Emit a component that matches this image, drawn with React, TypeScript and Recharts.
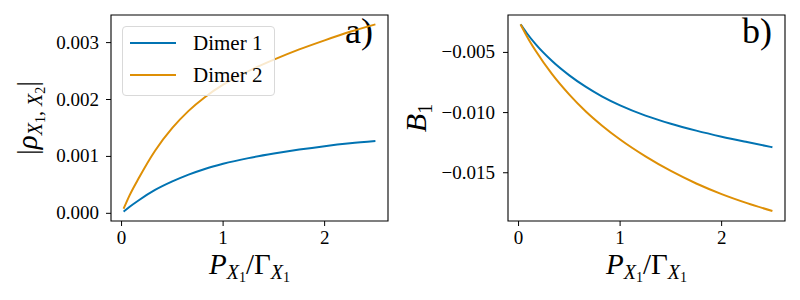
import React from 'react';
import { LineChart, Line, XAxis, YAxis, ReferenceArea, Legend, Label } from 'recharts';

// pump rate P_X1 / Gamma_X1 (shared by both panels)
const pumpRatio = [0.02, 0.08, 0.17, 0.33, 0.5, 0.66, 0.82, 1.0, 1.25, 1.5, 1.75, 2.0, 2.25, 2.5];

// panel a) |rho_{X1,X2}|
const rhoDimer1 = [0.00003, 0.000115, 0.00023, 0.00041, 0.00056, 0.00068, 0.00078, 0.00087, 0.00097, 0.00105, 0.00112, 0.00118, 0.00123, 0.00127];
const rhoDimer2 = [0.00008, 0.00032, 0.00062, 0.0011, 0.0015, 0.0018, 0.00204, 0.00226, 0.0025, 0.0027, 0.00288, 0.00304, 0.00319, 0.00332];

// panel b) B_1
const bDimer1 = [-0.00267, -0.00339, -0.00434, -0.00572, -0.00691, -0.00785, -0.00865, -0.0094, -0.01025, -0.01093, -0.0115, -0.012, -0.01245, -0.01288];
const bDimer2 = [-0.00267, -0.00363, -0.00489, -0.00681, -0.00851, -0.00989, -0.01107, -0.01224, -0.01364, -0.01485, -0.01589, -0.01677, -0.01752, -0.01818];

const xTicks = [0, 1, 2];
const rhoTicks = [0, 0.001, 0.002, 0.003];
const bTicks = [-0.015, -0.01, -0.005];
const seriesNames = ['Dimer 1', 'Dimer 2'];

const BLUE = '#0173b2';
const ORANGE = '#de8f05';
const FONT = '"Liberation Serif", "DejaVu Serif", serif';
const X_DOMAIN: [number, number] = [-0.104, 2.624];
const RHO_DOMAIN: [number, number] = [-0.000135, 0.003485];
const B_DOMAIN: [number, number] = [-0.019008, -0.001892];

const rhoData = pumpRatio.map((x, i) => ({ x, d1: rhoDimer1[i], d2: rhoDimer2[i] }));
const bData = pumpRatio.map((x, i) => ({ x, d1: bDimer1[i], d2: bDimer2[i] }));

const fmtRho = (v: number) => v.toFixed(3);
const fmtB = (v: number) => '\u2212' + Math.abs(v).toFixed(3);

// serif tick labels (tick prop fonts were ignored)
const makeTick = (axis: 'x' | 'y', fmt: (v: number) => string) => (props: any) => {
  const { x, y, payload } = props;
  if (axis === 'x') {
    return (
      <text x={x} y={y} dy={15} textAnchor="middle" fontFamily={FONT} fontSize={19} fill="#000">
        {fmt(payload.value)}
      </text>
    );
  }
  return (
    <text x={x} y={y} dy={6} textAnchor="end" fontFamily={FONT} fontSize={19} fill="#000">
      {fmt(payload.value)}
    </text>
  );
};

const renderXLabel = (props: any) => {
  const vb = props.viewBox;
  const cx = vb.x + vb.width / 2;
  return (
    <text x={cx} y={vb.y + 53} textAnchor="middle" fontFamily={FONT} fontSize={29} fill="#000">
      <tspan fontStyle="italic">P</tspan>
      <tspan fontStyle="italic" fontSize={20} dy={5}>X</tspan>
      <tspan fontSize={14} dy={3}>1</tspan>
      <tspan dy={-8}>/Γ</tspan>
      <tspan fontStyle="italic" fontSize={20} dy={5}>X</tspan>
      <tspan fontSize={14} dy={3}>1</tspan>
    </text>
  );
};

const renderRhoLabel = (props: any) => {
  const vb = props.viewBox;
  const x = 37;
  const y = vb.y + vb.height / 2;
  return (
    <text x={x} y={y} transform={`rotate(-90, ${x}, ${y})`} textAnchor="middle" fontFamily={FONT} fontSize={29} fill="#000">
      <tspan>|</tspan>
      <tspan fontStyle="italic">ρ</tspan>
      <tspan fontStyle="italic" fontSize={20} dy={5}>X</tspan>
      <tspan fontSize={14} dy={3}>1</tspan>
      <tspan fontSize={20} dy={-3}>, </tspan>
      <tspan fontStyle="italic" fontSize={20}>X</tspan>
      <tspan fontSize={14} dy={3}>2</tspan>
      <tspan dy={-8}>|</tspan>
    </text>
  );
};

const renderBLabel = (props: any) => {
  const vb = props.viewBox;
  const x = 26;
  const y = vb.y + vb.height / 2;
  return (
    <text x={x} y={y} transform={`rotate(-90, ${x}, ${y})`} textAnchor="middle" fontFamily={FONT} fontSize={30} fill="#000">
      <tspan fontStyle="italic">B</tspan>
      <tspan fontSize={20} dy={6}>1</tspan>
    </text>
  );
};

const panelTag = (tag: string) => (props: any) => {
  const vb = props.viewBox;
  return (
    <text x={vb.x + 0.845 * vb.width} y={vb.y + 28} fontFamily={FONT} fontSize={36} fill="#000">
      {tag}
    </text>
  );
};

const renderLegend = (props: any) => (
  <div
    style={{
      boxSizing: 'border-box',
      width: 153,
      height: 70,
      border: '1px solid #d9d9d9',
      borderRadius: 4,
      background: 'rgba(255,255,255,0.8)',
      fontFamily: FONT,
      fontSize: 21,
      color: '#000',
    }}
  >
    {(props.payload || []).map((entry: any) => (
      <div key={entry.value} style={{ display: 'flex', alignItems: 'center', height: 32 }}>
        <span style={{ display: 'inline-block', width: 46, height: 2, background: entry.color, marginLeft: 7, marginRight: 17 }} />
        <span>{entry.value}</span>
      </div>
    ))}
  </div>
);

export default function App() {
  return (
    <div style={{ position: 'absolute', left: 0, top: 0, width: 800, height: 300, background: '#fff' }}>
      <div style={{ position: 'absolute', left: 0, top: 0 }}>
        <LineChart width={400} height={300} data={rhoData} margin={{ top: 15, right: 12, bottom: 49, left: 41 }}>
          <XAxis
            dataKey="x"
            type="number"
            domain={X_DOMAIN}
            ticks={xTicks}
            allowDataOverflow
            axisLine={false}
            tickLine={{ stroke: '#000' }}
            tickSize={5}
            tickMargin={3}
            height={30}
            tick={makeTick('x', (v) => String(v))}
          >
            <Label content={renderXLabel} />
          </XAxis>
          <YAxis
            type="number"
            domain={RHO_DOMAIN}
            ticks={rhoTicks}
            allowDataOverflow
            axisLine={false}
            tickLine={{ stroke: '#000' }}
            tickSize={5}
            tickMargin={7}
            width={70}
            tick={makeTick('y', fmtRho)}
          >
            <Label content={renderRhoLabel} />
          </YAxis>
          <ReferenceArea
            x1={X_DOMAIN[0]}
            x2={X_DOMAIN[1]}
            y1={RHO_DOMAIN[0]}
            y2={RHO_DOMAIN[1]}
            fill="none"
            stroke="#000"
            strokeWidth={1.1}
            label={{ content: panelTag('a)') }}
          />
          <Line dataKey="d1" name={seriesNames[0]} type="monotone" stroke={BLUE} strokeWidth={2} dot={false} isAnimationActive={false} />
          <Line dataKey="d2" name={seriesNames[1]} type="monotone" stroke={ORANGE} strokeWidth={2} dot={false} isAnimationActive={false} />
          <Legend
            layout="vertical"
            align="center"
            verticalAlign="middle"
            content={renderLegend}
            wrapperStyle={{ left: 122, top: 26, width: 153, height: 70 }}
          />
        </LineChart>
      </div>
      <div style={{ position: 'absolute', left: 400, top: 0 }}>
        <LineChart width={400} height={300} data={bData} margin={{ top: 15, right: 15, bottom: 49, left: 38 }}>
          <XAxis
            dataKey="x"
            type="number"
            domain={X_DOMAIN}
            ticks={xTicks}
            allowDataOverflow
            axisLine={false}
            tickLine={{ stroke: '#000' }}
            tickSize={5}
            tickMargin={3}
            height={30}
            tick={makeTick('x', (v) => String(v))}
          >
            <Label content={renderXLabel} />
          </XAxis>
          <YAxis
            type="number"
            domain={B_DOMAIN}
            ticks={bTicks}
            allowDataOverflow
            axisLine={false}
            tickLine={{ stroke: '#000' }}
            tickSize={5}
            tickMargin={8}
            width={70}
            tick={makeTick('y', fmtB)}
          >
            <Label content={renderBLabel} />
          </YAxis>
          <ReferenceArea
            x1={X_DOMAIN[0]}
            x2={X_DOMAIN[1]}
            y1={B_DOMAIN[0]}
            y2={B_DOMAIN[1]}
            fill="none"
            stroke="#000"
            strokeWidth={1.1}
            label={{ content: panelTag('b)') }}
          />
          <Line dataKey="d1" name={seriesNames[0]} type="monotone" stroke={BLUE} strokeWidth={2} dot={false} isAnimationActive={false} />
          <Line dataKey="d2" name={seriesNames[1]} type="monotone" stroke={ORANGE} strokeWidth={2} dot={false} isAnimationActive={false} />
        </LineChart>
      </div>
    </div>
  );
}
